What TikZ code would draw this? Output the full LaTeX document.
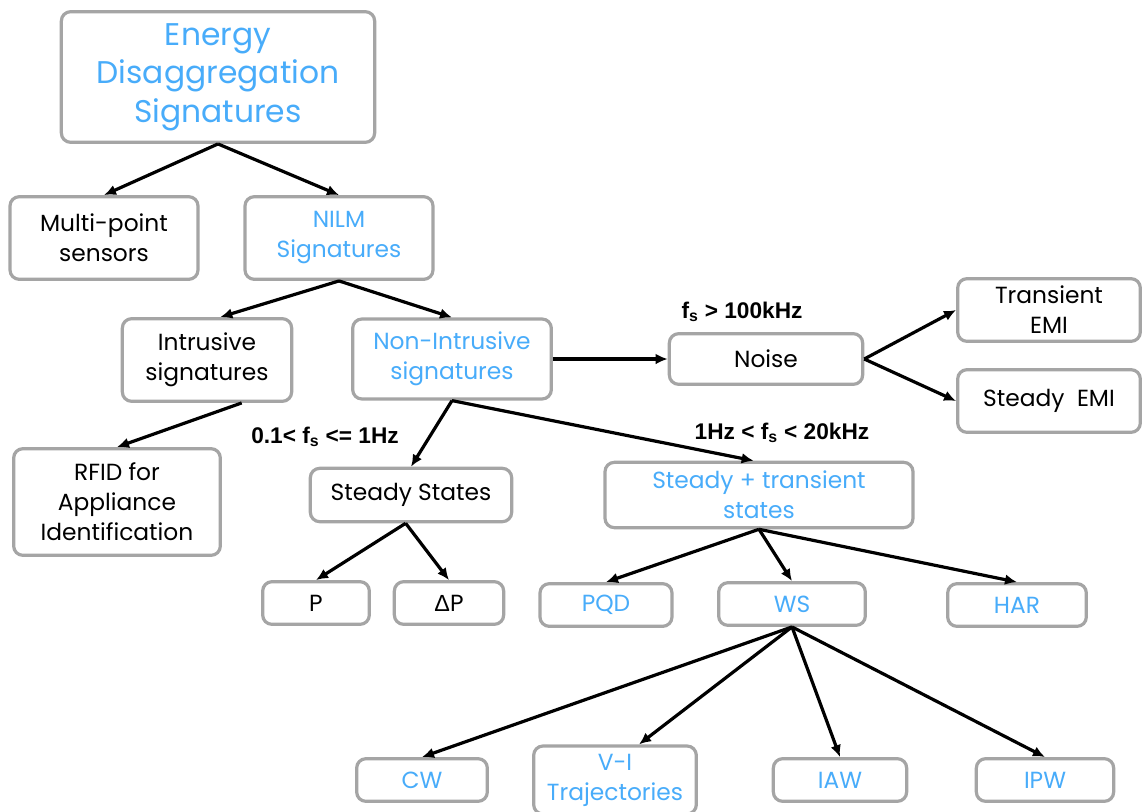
\documentclass[tikz,border=0pt]{standalone}
\usepackage{fontspec}
\setmainfont{Poppins}
\newfontfamily\labelfont{Liberation Sans}
\usetikzlibrary{arrows.meta}
\definecolor{SigBlue}{RGB}{72,172,250}
\definecolor{BoxGray}{RGB}{165,165,165}

\begin{document}
\begin{tikzpicture}[-{Latex[length=9pt,width=8pt]}, x=0.75pt, y=-0.75pt, line width=2.4pt,
      every node/.append style={align=center,font=\fontsize{17.5}{22.5}\selectfont}]
	  \tikzstyle{box} = [draw=BoxGray,rounded corners=7pt,fill=white,inner sep=1pt]
	  \tikzstyle{sig} = [text=SigBlue]
	  \tikzstyle{rate} = [font=\labelfont\bfseries\fontsize{17}{20}\selectfont]
	  \useasboundingbox (0,0) rectangle (1142,811);
	  % top levels
	  \node (1_1) [box,sig,minimum width=235pt,minimum height=98pt,font=\fontsize{23.5}{29}\selectfont] at (218,77) {Energy\\Disaggregation\\Signatures};
	  \node (2_1) [box,minimum width=141pt,minimum height=62pt] at (104,238) {Multi-point\\sensors};
	  \node (2_2) [box,sig,minimum width=141pt,minimum height=62pt] at (339,238) {NILM\\Signatures};
	  \node (3_1) [box,minimum width=127pt,minimum height=62pt] at (207,360) {Intrusive\\signatures};
	  \node (3_2) [box,sig,minimum width=149pt,minimum height=60pt] at (452,359) {Non-Intrusive\\signatures};
	  \node (3_3) [box,minimum width=145pt,minimum height=38pt] at (766,359) {Noise};
	  \node (3_4) [box,minimum width=137pt,minimum height=47pt] at (1049,310) {Transient\\EMI};
	  \node (3_5) [box,minimum width=137pt,minimum height=47pt] at (1049,401) {Steady\ \ EMI};
	  % middle levels
	  \node (4_1) [box,minimum width=155pt,minimum height=80pt] at (117,502) {RFID for\\Appliance\\Identification};
	  \node (4_2) [box,minimum width=151pt,minimum height=40pt] at (411,495) {Steady States};
	  \node (4_3) [box,sig,minimum width=231pt,minimum height=49pt] at (759,495) {Steady + transient\\states};
	  \node (5_1) [box,minimum width=80pt,minimum height=32pt] at (316,603) {P};
	  \node (5_2) [box,minimum width=82pt,minimum height=32pt] at (449,603) {{\labelfont\char"0394}P};
	  \node (5_3) [box,sig,minimum width=99pt,minimum height=32pt] at (606,605) {PQD};
	  \node (5_4) [box,sig,minimum width=110pt,minimum height=32pt] at (792,604) {WS};
	  \node (5_5) [box,sig,minimum width=104pt,minimum height=32pt] at (1017,605) {HAR};
	  % bottom level
	  \node (6_1) [box,sig,minimum width=98pt,minimum height=32pt] at (422,780) {CW};
	  \node (6_2) [box,sig,minimum width=122pt,minimum height=51pt] at (615,780) {V-I\\Trajectories};
	  \node (6_3) [box,sig,minimum width=100pt,minimum height=32pt] at (840,780) {IAW};
	  \node (6_4) [box,sig,minimum width=103pt,minimum height=32pt] at (1045,780) {IPW};
	  % sampling rates
	  \node (r_1) [rate] at (742,312) {f\textsubscript{s} > 100kHz};
	  \node (r_2) [rate] at (325,437) {0.1< f\textsubscript{s} <= 1Hz};
	  \node (r_3) [rate] at (782,433) {1Hz < f\textsubscript{s} < 20kHz};
	  \draw (1_1.south) -- (2_1.north);
	  \draw (1_1.south) -- (2_2.north);
	  \draw (2_2.south) -- ([xshift=10pt]3_1.north);
	  \draw (2_2.south) -- (3_2.north);
	  \draw ([xshift=26pt]3_1.south) -- (4_1.north);
	  \draw (3_2.east) -- (3_3.west);
	  \draw (3_3.east) -- (3_4.west);
	  \draw (3_3.east) -- (3_5.west);
	  \draw (3_2.south) -- (4_2.north);
	  \draw (3_2.south) -- ([xshift=-4pt]4_3.north);
	  \draw ([xshift=-4pt]4_2.south) -- (5_1.north);
	  \draw ([xshift=-4pt]4_2.south) -- (5_2.north);
	  \draw (4_3.south) -- (5_3.north);
	  \draw (4_3.south) -- (5_4.north);
	  \draw (4_3.south) -- (5_5.north);
	  \draw (5_4.south) -- (6_1.north);
	  \draw (5_4.south) -- ([xshift=18pt]6_2.north);
	  \draw (5_4.south) -- (6_3.north);
	  \draw (5_4.south) -- (6_4.north);
	\end{tikzpicture}
\end{document}
